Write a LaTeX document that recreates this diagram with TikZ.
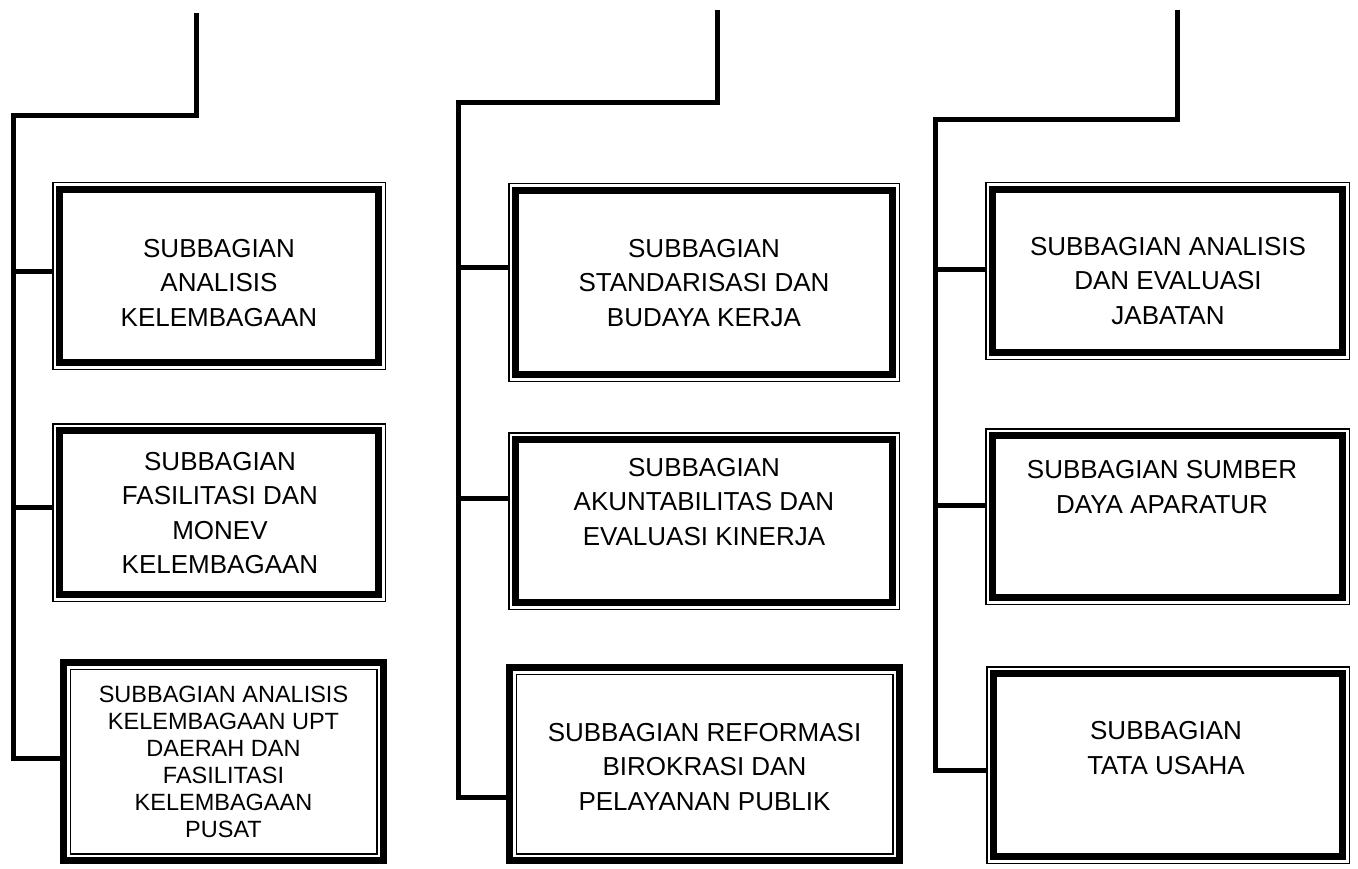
\documentclass[tikz,border=0pt]{standalone}
\usepackage{fontspec}
\setmainfont{Liberation Sans}
\usepackage{tikz}
\usetikzlibrary{positioning, calc}
\tikzset{
  conn/.style={line width=5pt, line join=miter},
  framebox/.style={inner sep=0pt, outer sep=0pt, draw=none},
  thinrule/.style={line width=1.5pt},
  thickrule/.style={line width=7pt},
  boxtext/.style={align=center, inner sep=0pt, font=\fontsize{26}{34.5}\selectfont},
  smalltext/.style={align=center, inner sep=0pt, font=\fontsize{23.5}{27}\selectfont}
}
\begin{document}
\begin{tikzpicture}[x=1pt, y=-1pt]
\useasboundingbox (0,0) rectangle (1358,869);

% Frames (left column)
\node[framebox, minimum width=334pt, minimum height=188pt] (a1) at (219,276) {};
\node[framebox, minimum width=334pt, minimum height=179pt] (a2) at (219,512.5) {};
\node[framebox, minimum width=327pt, minimum height=205pt] (a3) at (223.5,761.5) {};
% Frames (middle column)
\node[framebox, minimum width=392pt, minimum height=199pt] (b1) at (704,282.5) {};
\node[framebox, minimum width=392pt, minimum height=178pt] (b2) at (704,521) {};
\node[framebox, minimum width=397pt, minimum height=200pt] (b3) at (704.5,764) {};
% Frames (right column)
\node[framebox, minimum width=365pt, minimum height=178pt] (c1) at (1167.5,271) {};
\node[framebox, minimum width=365pt, minimum height=177pt] (c2) at (1167.5,516.5) {};
\node[framebox, minimum width=364pt, minimum height=198pt] (c3) at (1168,765) {};

% thin outside, thick inside
\foreach \n in {a1,a2,b1,b2,c1,c2,c3} {
  \draw[thinrule] ([shift={(0.75,0.75)}]\n.north west) rectangle ([shift={(-0.75,-0.75)}]\n.south east);
  \draw[thickrule] ([shift={(7.5,7.5)}]\n.north west) rectangle ([shift={(-7.5,-7.5)}]\n.south east);
}
% thick outside, thin inside
\foreach \n in {a3,b3} {
  \draw[thickrule] ([shift={(3.5,3.5)}]\n.north west) rectangle ([shift={(-3.5,-3.5)}]\n.south east);
  \draw[thinrule] ([shift={(10.25,10.25)}]\n.north west) rectangle ([shift={(-10.25,-10.25)}]\n.south east);
}

% Labels
\node[boxtext] (a1t) at (219,283) {SUBBAGIAN\\ANALISIS\\KELEMBAGAAN};
\node[boxtext] (a2t) at (220,513) {SUBBAGIAN\\FASILITASI DAN\\MONEV\\KELEMBAGAAN};
\node[smalltext] (a3t) at (223.5,762) {SUBBAGIAN ANALISIS\\KELEMBAGAAN UPT\\DAERAH DAN\\FASILITASI\\KELEMBAGAAN\\PUSAT};
\node[boxtext] (b1t) at (704,283) {SUBBAGIAN\\STANDARISASI DAN\\BUDAYA KERJA};
\node[boxtext] (b2t) at (704,502) {SUBBAGIAN\\AKUNTABILITAS DAN\\EVALUASI KINERJA};
\node[boxtext] (b3t) at (704.5,767) {SUBBAGIAN REFORMASI\\BIROKRASI DAN\\PELAYANAN PUBLIK};
\node[boxtext] (c1t) at (1168,281) {SUBBAGIAN ANALISIS\\DAN EVALUASI\\JABATAN};
\node[boxtext] (c2t) at (1162,487) {SUBBAGIAN SUMBER\\DAYA APARATUR};
\node[boxtext] (c3t) at (1166,748) {SUBBAGIAN\\TATA USAHA};

% Connectors
\coordinate (atop) at (196,13);
\coordinate (abend) at (13,116);
\coordinate (aj1) at (13,272);
\coordinate (aj2) at (13,507);
\coordinate (aj3) at (13,758);
\draw[conn] (atop) |- (abend) -- (aj3) -- (aj3 -| a3.west);
\draw[conn] (aj1) -- (aj1 -| a1.west);
\draw[conn] (aj2) -- (aj2 -| a2.west);

\coordinate (btop) at (717,10);
\coordinate (bbend) at (458,103);
\coordinate (bj1) at (458,268);
\coordinate (bj2) at (458,498);
\coordinate (bj3) at (458,797);
\draw[conn] (btop) |- (bbend) -- (bj3) -- (bj3 -| b3.west);
\draw[conn] (bj1) -- (bj1 -| b1.west);
\draw[conn] (bj2) -- (bj2 -| b2.west);

\coordinate (ctop) at (1177,10);
\coordinate (cbend) at (935,120);
\coordinate (cj1) at (935,270);
\coordinate (cj2) at (935,505);
\coordinate (cj3) at (935,770);
\draw[conn] (ctop) |- (cbend) -- (cj3) -- (cj3 -| c3.west);
\draw[conn] (cj1) -- (cj1 -| c1.west);
\draw[conn] (cj2) -- (cj2 -| c2.west);
\end{tikzpicture}
\end{document}
